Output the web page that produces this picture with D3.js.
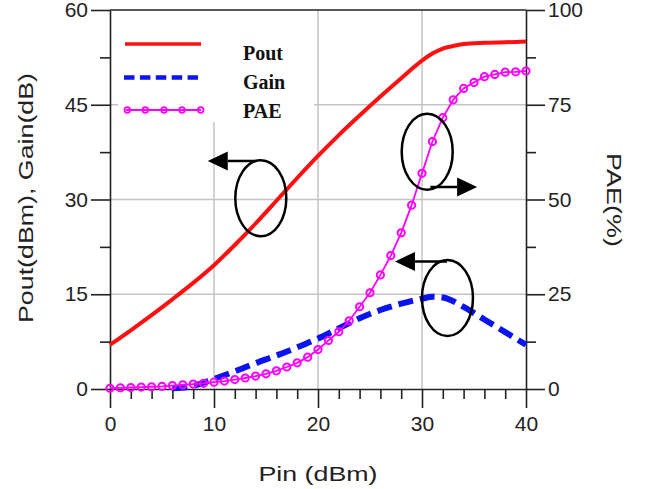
<!DOCTYPE html>
<html>
<head>
<meta charset="utf-8">
<script src="https://cdn.jsdelivr.net/npm/d3@7"></script>
<style>
  body { margin: 0; background: #fff; }
  svg { display: block; }
  .tick text { font-family: "Liberation Sans", Arial, sans-serif; font-size: 21px; fill: #222; }
</style>
</head>
<body>
<script>
// data
var pinPout = [0, 2, 4, 6, 8, 10, 12, 14, 16, 18, 20, 22, 24, 26, 28, 30, 31, 32, 33, 34, 36, 38, 40];
var pout = [7.0, 9.3, 11.7, 14.2, 16.8, 19.6, 22.8, 26.2, 29.8, 33.4, 36.9, 40.2, 43.3, 46.3, 49.2, 52.0, 53.1, 53.9, 54.3, 54.6, 54.8, 54.9, 55.0];

var pinGain = [6, 8, 10, 12, 14, 16, 18, 20, 22, 24, 26, 28, 30, 31, 32, 34, 36, 38, 40];
var gain = [0.1, 0.5, 1.6, 2.8, 4.1, 5.3, 6.6, 8.0, 9.6, 11.2, 12.5, 13.5, 14.3, 14.6, 14.5, 13.0, 11.0, 9.0, 7.0];

var pinPAE = [0, 1, 2, 3, 4, 5, 6, 7, 8, 9, 10, 11, 12, 13, 14, 15, 16, 17, 18, 19, 20,
  21, 22, 23, 24, 25, 26, 27, 28, 29, 30, 31, 32, 33, 34, 35, 36, 37, 38, 39, 40];
var pae = [0.2, 0.3, 0.4, 0.5, 0.6, 0.7, 0.9, 1.1, 1.3, 1.5, 1.8, 2.1, 2.5, 2.9, 3.4, 4.0, 4.8, 5.8, 6.9, 8.4, 10.4,
  12.8, 15.1, 18.0, 21.7, 25.4, 30.1, 35.2, 41.2, 48.5, 56.9, 65.3, 71.6, 76.3, 79.3, 80.9, 82.4, 83.0, 83.6, 83.7, 83.9];

var xTicks = [0, 10, 20, 30, 40];
var leftTicks = [0, 15, 30, 45, 60];
var rightTicks = [0, 25, 50, 75, 100];
var xMinor = [2, 4, 6, 8, 12, 14, 16, 18, 22, 24, 26, 28, 32, 34, 36, 38];
var leftMinor = [7.5, 22.5, 37.5, 52.5];
var rightMinor = [12.5, 37.5, 62.5, 87.5];

var legendNames = ["Pout", "Gain", "PAE"];

//layout
var W = 654, H = 489;
var plotL = 110, plotR = 526, plotT = 10, plotB = 389;
var majorLen = 19, minorLen = 10;

var x = d3.scaleLinear().domain([0, 40]).range([plotL, plotR]);
var yL = d3.scaleLinear().domain([0, 60]).range([plotB, plotT]);
var yR = d3.scaleLinear().domain([0, 100]).range([plotB, plotT]);

const svg = d3.select("body").append("svg")
    .attr("width", W)
    .attr("height", H);

//grid lines at the inner major ticks
var grid = svg.append("g").attr("stroke", "#c4c4c4").attr("stroke-width", 1.5);
grid.selectAll("line.gx")
    .data(xTicks.slice(1, -1))
    .enter().append("line")
    .attr("x1", function (d) { return x(d) })
    .attr("x2", function (d) { return x(d) })
    .attr("y1", plotT).attr("y2", plotB);
grid.selectAll("line.gy")
    .data(leftTicks.slice(1, -1))
    .enter().append("line")
    .attr("x1", plotL).attr("x2", plotR)
    .attr("y1", function (d) { return yL(d) })
    .attr("y2", function (d) { return yL(d) });

//legend background hides the grid
svg.append("rect")
    .attr("x", 118).attr("y", plotT + 1)
    .attr("width", 196).attr("height", 111)
    .attr("fill", "#fff");

function styleAxis(g) {
    g.selectAll("path, line").attr("stroke", "#222").attr("stroke-width", 1.6);
}

//x axis
svg.append("g")
    .attr("transform", "translate(0," + plotB + ")")
    .call(d3.axisBottom(x).tickValues(xTicks).tickSize(majorLen).tickSizeOuter(0).tickPadding(8))
    .call(styleAxis);
svg.append("g")
    .attr("transform", "translate(0," + plotB + ")")
    .call(d3.axisBottom(x).tickValues(xMinor).tickSize(minorLen).tickSizeOuter(0).tickFormat(""))
    .call(styleAxis)
    .select(".domain").remove();

//left axis
svg.append("g")
    .attr("transform", "translate(" + plotL + ",0)")
    .call(d3.axisLeft(yL).tickValues(leftTicks).tickSize(majorLen).tickSizeOuter(0).tickPadding(3))
    .call(styleAxis);
svg.append("g")
    .attr("transform", "translate(" + plotL + ",0)")
    .call(d3.axisLeft(yL).tickValues(leftMinor).tickSize(minorLen).tickSizeOuter(0).tickFormat(""))
    .call(styleAxis)
    .select(".domain").remove();

//right axis
svg.append("g")
    .attr("transform", "translate(" + plotR + ",0)")
    .call(d3.axisRight(yR).tickValues(rightTicks).tickSize(majorLen).tickSizeOuter(0).tickPadding(3))
    .call(styleAxis);
svg.append("g")
    .attr("transform", "translate(" + plotR + ",0)")
    .call(d3.axisRight(yR).tickValues(rightMinor).tickSize(minorLen).tickSizeOuter(0).tickFormat(""))
    .call(styleAxis)
    .select(".domain").remove();

//top frame line
svg.append("line")
    .attr("x1", plotL).attr("x2", plotR)
    .attr("y1", plotT).attr("y2", plotT)
    .attr("stroke", "#222").attr("stroke-width", 1.6);

//axis titles
svg.append("text")
    .attr("x", (plotL + plotR) / 2).attr("y", 481)
    .attr("text-anchor", "middle")
    .attr("textLength", 119).attr("lengthAdjust", "spacingAndGlyphs")
    .style("font-family", "'Liberation Sans', Arial, sans-serif")
    .style("font-size", "21px").attr("fill", "#222")
    .text("Pin (dBm)");
svg.append("text")
    .attr("transform", "translate(33,198) rotate(-90)")
    .attr("text-anchor", "middle")
    .attr("textLength", 250).attr("lengthAdjust", "spacingAndGlyphs")
    .style("font-family", "'Liberation Sans', Arial, sans-serif")
    .style("font-size", "21px").attr("fill", "#222")
    .text("Pout(dBm), Gain(dB)");
svg.append("text")
    .attr("transform", "translate(607,200) rotate(90)")
    .attr("text-anchor", "middle")
    .attr("textLength", 94).attr("lengthAdjust", "spacingAndGlyphs")
    .style("font-family", "'Liberation Sans', Arial, sans-serif")
    .style("font-size", "21px").attr("fill", "#222")
    .text("PAE(%)");

//curves
var poutLine = d3.line()
    .x(function (d, i) { return x(pinPout[i]) })
    .y(function (d) { return yL(d) })
    .curve(d3.curveMonotoneX);
svg.append("path")
    .attr("d", poutLine(pout))
    .attr("fill", "none").attr("stroke", "#ff1010").attr("stroke-width", 4);

var gainLine = d3.line()
    .x(function (d, i) { return x(pinGain[i]) })
    .y(function (d) { return yL(d) })
    .curve(d3.curveMonotoneX);
svg.append("path")
    .attr("d", gainLine(gain))
    .attr("fill", "none").attr("stroke", "#0a14f0").attr("stroke-width", 6)
    .attr("stroke-dasharray", "15,7");

var paeLine = d3.line()
    .x(function (d, i) { return x(pinPAE[i]) })
    .y(function (d) { return yR(d) });
svg.append("path")
    .attr("d", paeLine(pae))
    .attr("fill", "none").attr("stroke", "#ff00ff").attr("stroke-width", 1.8);
svg.append("g").selectAll("circle")
    .data(pae)
    .enter().append("circle")
    .attr("cx", function (d, i) { return x(pinPAE[i]) })
    .attr("cy", function (d) { return yR(d) })
    .attr("r", 3.6)
    .attr("fill", "none").attr("stroke", "#ff00ff").attr("stroke-width", 2);

//ellipse + arrow annotations (centre, arrow start, arrow tip)
var notes = [
    { cx: x(14.5), cy: yL(30.2), sx: x(14.1), sy: yL(36.1), tx: x(9.4) },
    { cx: x(30.5), cy: yR(62.6), sx: x(30.8), sy: yR(53.3), tx: x(35.3) },
    { cx: x(32.45), cy: yL(14.4), sx: x(32.4), sy: yL(20.2), tx: x(27.4) }
];
var ann = svg.append("g").attr("stroke", "#000").attr("stroke-width", 2.5).attr("fill", "none");
notes.forEach(function (n) {
    ann.append("ellipse")
        .attr("cx", n.cx).attr("cy", n.cy)
        .attr("rx", 25.5).attr("ry", 38);
    var dir = n.tx < n.sx ? -1 : 1;
    var base = n.tx - dir * 20;
    ann.append("line")
        .attr("x1", n.sx).attr("y1", n.sy)
        .attr("x2", base).attr("y2", n.sy);
    ann.append("path")
        .attr("d", "M" + n.tx + "," + n.sy + "L" + base + "," + (n.sy - 9.5) + "L" + base + "," + (n.sy + 9.5) + "Z")
        .attr("fill", "#000").attr("stroke", "none");
});

//legend
var lg = svg.append("g");
lg.append("line")
    .attr("x1", 125).attr("x2", 201).attr("y1", 44).attr("y2", 44)
    .attr("stroke", "#ff1010").attr("stroke-width", 3.5);
lg.append("line")
    .attr("x1", 124).attr("x2", 198).attr("y1", 77.5).attr("y2", 77.5)
    .attr("stroke", "#0a14f0").attr("stroke-width", 4.5)
    .attr("stroke-dasharray", "10.5,5.4");
lg.append("line")
    .attr("x1", 126).attr("x2", 201).attr("y1", 110).attr("y2", 110)
    .attr("stroke", "#ff00ff").attr("stroke-width", 1.8);
lg.selectAll("circle")
    .data([127.3, 145.3, 164, 182, 200.7])
    .enter().append("circle")
    .attr("cx", function (d) { return d })
    .attr("cy", 110)
    .attr("r", 2.8)
    .attr("fill", "none").attr("stroke", "#ff00ff").attr("stroke-width", 1.8);
lg.selectAll("text")
    .data(legendNames)
    .enter().append("text")
    .attr("x", 243)
    .attr("y", function (d, i) { return [60, 88.5, 118][i] })
    .style("font-family", "'Liberation Serif', 'Times New Roman', serif")
    .style("font-weight", "bold")
    .style("font-size", "20px")
    .attr("fill", "#111")
    .text(function (d) { return d });
</script>
</body>
</html>
